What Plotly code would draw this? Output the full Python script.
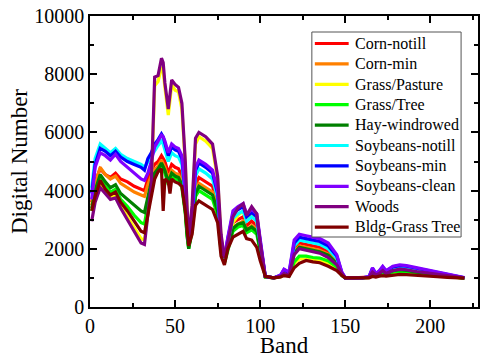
import plotly.graph_objects as go

BANDS = [1, 3, 6, 9, 12, 15, 18, 22, 26, 30,
         32, 34, 36, 38, 40, 42, 43, 44, 46, 47,
         48, 50, 52, 54, 56, 57, 58, 60, 62, 64,
         68, 72, 75, 77, 79, 81, 84, 87, 90, 92,
         95, 98, 100, 103, 108, 112, 114, 117, 120, 123,
         127, 131, 135, 140, 145, 148, 150, 155, 160, 164,
         166, 168, 170, 172, 174, 178, 182, 186, 192, 198,
         204, 210, 216, 220]

corn_notill = [3600, 4300, 4750, 4550, 4450, 4600, 4400, 4300, 4150, 4050,
               4000, 4400, 4700, 4900, 5000, 5200, 5100, 5000, 4600, 4750,
               4900, 4800, 4750, 4500, 3500, 2700, 2100, 2900, 4200, 4450,
               4300, 4150, 3550, 2100, 1600, 2150, 2900, 3000, 3100, 2800,
               2950, 2800, 2050, 1040, 1000, 1070, 1220, 1130, 2000, 2200,
               2150, 2100, 2050, 1900, 1600, 1120, 1000, 1000, 1000, 1025,
               1250, 1100, 1170, 1300, 1170, 1300, 1330, 1310, 1250, 1190,
               1130, 1080, 1020, 995]
corn_min = [3500, 4200, 4800, 4550, 4400, 4500, 4250, 4100, 3950, 3850,
            3800, 4200, 4500, 4700, 4850, 5050, 4950, 4800, 4400, 4550,
            4700, 4600, 4550, 4300, 3400, 2600, 2050, 2800, 4000, 4250,
            4100, 3950, 3400, 2000, 1550, 2050, 2750, 2850, 2950, 2650,
            2800, 2650, 1950, 1040, 1000, 1060, 1200, 1120, 1900, 2100,
            2050, 2000, 1950, 1820, 1550, 1100, 1000, 1000, 1000, 1020,
            1230, 1090, 1150, 1280, 1150, 1280, 1310, 1290, 1230, 1170,
            1110, 1070, 1015, 995]
grass_pasture = [3300, 3800, 4200, 4000, 3800, 3850, 3500, 3100, 2700, 2350,
                 2300, 3200, 4100, 7600, 7750, 8250, 8100, 7550, 6600, 7100,
                 7650, 7450, 7400, 6800, 4900, 3400, 2300, 3400, 5600, 5850,
                 5700, 5450, 4400, 2400, 1650, 2100, 2900, 3150, 3300, 2950,
                 3200, 3000, 2100, 1050, 1000, 1030, 1100, 1080, 1500, 1650,
                 1650, 1600, 1580, 1480, 1300, 1100, 1000, 1000, 1000, 1010,
                 1100, 1050, 1080, 1150, 1100, 1150, 1180, 1170, 1130, 1100,
                 1070, 1040, 1010, 990]
grass_tree = [3300, 3900, 4400, 4150, 3950, 4050, 3700, 3450, 3150, 2900,
              2850, 3600, 4200, 4500, 4650, 4850, 4750, 4600, 4200, 4350,
              4500, 4400, 4350, 4100, 3200, 2450, 2000, 2600, 3800, 4000,
              3850, 3700, 3150, 1900, 1500, 1950, 2600, 2750, 2800, 2550,
              2650, 2500, 1900, 1030, 1000, 1050, 1150, 1080, 1550, 1750,
              1750, 1700, 1680, 1580, 1380, 1080, 1000, 1000, 1000, 1015,
              1150, 1060, 1100, 1200, 1100, 1200, 1230, 1220, 1170, 1120,
              1080, 1050, 1010, 990]
hay_windrowed = [3400, 4000, 4550, 4300, 4100, 4200, 3900, 3700, 3500, 3300,
                 3250, 3800, 4300, 4600, 4750, 4950, 4850, 4700, 4300, 4450,
                 4600, 4500, 4450, 4200, 3300, 2500, 2000, 2700, 3900, 4150,
                 4000, 3850, 3300, 1950, 1550, 2000, 2700, 2850, 2900, 2650,
                 2750, 2600, 1950, 1040, 1000, 1060, 1180, 1100, 1850, 2050,
                 2000, 1950, 1900, 1780, 1500, 1100, 1000, 1000, 1000, 1020,
                 1200, 1080, 1130, 1250, 1130, 1250, 1280, 1260, 1200, 1150,
                 1100, 1060, 1010, 990]
soy_notill = [4100, 5100, 5600, 5450, 5300, 5450, 5250, 5100, 5000, 4900,
              4800, 5000, 5200, 5400, 5550, 5700, 5600, 5400, 5000, 5150,
              5300, 5200, 5150, 4900, 3800, 2850, 2150, 3000, 4500, 4750,
              4600, 4400, 3750, 2200, 1650, 2250, 3050, 3200, 3300, 2950,
              3100, 2950, 2150, 1050, 1000, 1080, 1250, 1150, 2100, 2300,
              2250, 2200, 2150, 2000, 1680, 1150, 1000, 1000, 1000, 1030,
              1300, 1120, 1200, 1350, 1200, 1350, 1390, 1370, 1300, 1230,
              1160, 1100, 1030, 1000]
soy_min = [3900, 4900, 5450, 5350, 5200, 5350, 5150, 5000, 4900, 4800,
           4700, 5100, 5300, 5600, 5750, 5950, 5850, 5600, 5200, 5350,
           5500, 5400, 5350, 5100, 3900, 2900, 2200, 3100, 4700, 4950,
           4800, 4600, 3900, 2250, 1700, 2350, 3200, 3350, 3450, 3100,
           3250, 3100, 2250, 1050, 1000, 1090, 1280, 1180, 2200, 2400,
           2350, 2300, 2250, 2100, 1750, 1180, 1000, 1000, 1000, 1040,
           1330, 1140, 1230, 1380, 1230, 1380, 1420, 1400, 1330, 1250,
           1180, 1110, 1040, 1005]
soy_clean = [3700, 4800, 5300, 5200, 5050, 5250, 5000, 4800, 4600, 4400,
             4350, 4600, 5000, 5500, 5700, 5900, 5850, 5700, 5300, 5450,
             5600, 5500, 5450, 5200, 4000, 3000, 2200, 3200, 4800, 5050,
             4900, 4700, 4000, 2300, 1700, 2400, 3300, 3450, 3550, 3200,
             3350, 3200, 2300, 1050, 1000, 1100, 1300, 1200, 2300, 2500,
             2450, 2400, 2350, 2200, 1800, 1200, 1000, 1000, 1000, 1050,
             1350, 1150, 1250, 1400, 1250, 1400, 1450, 1420, 1350, 1270,
             1200, 1120, 1050, 1010]
woods = [2950, 3600, 4100, 3900, 3700, 3750, 3400, 3000, 2600, 2200,
         2150, 3200, 4200, 7900, 7950, 8550, 8400, 7700, 6800, 7300,
         7800, 7650, 7550, 7000, 5000, 3500, 2300, 3500, 5800, 6000,
         5850, 5600, 4500, 2500, 1700, 2200, 3100, 3400, 3550, 3150,
         3450, 3200, 2200, 1050, 1000, 1050, 1150, 1100, 1800, 2000,
         1950, 1900, 1850, 1700, 1450, 1150, 1000, 1000, 1000, 1020,
         1200, 1100, 1150, 1250, 1150, 1250, 1300, 1280, 1220, 1170,
         1120, 1070, 1020, 1000]
bldg_grass_tree = [3300, 3800, 4350, 4050, 3850, 3950, 3600, 3300, 2950, 2600,
                   2550, 3200, 3700, 4400, 4650, 4750, 3300, 4400, 4300, 3900,
                   4400, 4300, 4250, 4150, 3300, 2700, 2100, 2500, 3500, 3650,
                   3500, 3350, 2900, 1750, 1450, 2000, 2400, 2500, 2600, 2350,
                   2300, 2050, 1600, 1050, 1000, 1030, 1080, 1050, 1350, 1500,
                   1600, 1550, 1520, 1400, 1250, 1080, 1000, 1000, 1000, 1000,
                   1050, 1030, 1060, 1080, 1060, 1100, 1120, 1110, 1080, 1060,
                   1040, 1020, 1000, 990]

NAMES = ["Corn-notill", "Corn-min", "Grass/Pasture", "Grass/Tree", "Hay-windrowed",
         "Soybeans-notill", "Soybeans-min", "Soybeans-clean", "Woods", "Bldg-Grass Tree"]
SERIES = [corn_notill, corn_min, grass_pasture, grass_tree, hay_windrowed,
          soy_notill, soy_min, soy_clean, woods, bldg_grass_tree]
COLORS = ["#FF0000", "#FF8000", "#FFFF00", "#00FF00", "#008000",
          "#00FFFF", "#0000FF", "#8000FF", "#800080", "#800000"]

FONT = "Liberation Serif"
W, H = 480, 358
ML, MR, MT, MB = 90, 0, 16, 51
PW, PH = W - ML - MR, H - MT - MB

fig = go.Figure()
for name, vals, col in zip(NAMES, SERIES, COLORS):
    assert len(vals) == len(BANDS)
    fig.add_trace(go.Scatter(x=BANDS, y=vals, mode="lines", name=name,
                             line=dict(color=col, width=3.2), showlegend=False))

axis_common = dict(showline=True, linecolor="black", linewidth=1.5, mirror="allticks",
                   ticks="inside", ticklen=7, tickwidth=1.5, tickcolor="black",
                   showgrid=False, zeroline=False,
                   tickfont=dict(family=FONT, size=20, color="black"))

fig.update_xaxes(range=[0, 228], tickvals=[0, 50, 100, 150, 200], tickformat="d",
                 minor=dict(ticks="inside", ticklen=4, tickwidth=1.5, tickcolor="black",
                            tickvals=[25, 75, 125, 175, 225]),
                 title=dict(text="Band", font=dict(family=FONT, size=23, color="black"), standoff=0),
                 **axis_common)
fig.update_yaxes(range=[0, 10000], tickvals=[0, 2000, 4000, 6000, 8000, 10000], tickformat="d",
                 minor=dict(ticks="inside", ticklen=4, tickwidth=1.5, tickcolor="black",
                            tickvals=[1000, 3000, 5000, 7000, 9000]),
                 title=dict(text="Digital Number", font=dict(family=FONT, size=23, color="black"), standoff=0),
                 **axis_common)

# legend panel (pixel layout converted to paper coordinates)
def px_x(p):
    return (p - ML) / PW

def px_y(p):
    return (H - MB - p) / PH

LEG_L, LEG_R, LEG_T, LEG_B = 313, 463, 32, 237
ROW0, ROW_STEP = 43.5, 20.4
fig.add_shape(type="rect", xref="paper", yref="paper",
              x0=px_x(LEG_L), x1=px_x(LEG_R), y0=px_y(LEG_B), y1=px_y(LEG_T),
              line=dict(color="#555555", width=1), fillcolor="white", layer="above")
for i, (name, col) in enumerate(zip(NAMES, COLORS)):
    yy = px_y(ROW0 + i * ROW_STEP)
    fig.add_shape(type="line", xref="paper", yref="paper",
                  x0=px_x(316), x1=px_x(350), y0=yy, y1=yy,
                  line=dict(color=col, width=3.2), layer="above")
    fig.add_annotation(x=px_x(354), y=yy, xref="paper", yref="paper",
                       text=name, showarrow=False, xanchor="left", yanchor="middle",
                       font=dict(family=FONT, size=16, color="black"))

fig.update_layout(
    width=W, height=H,
    margin=dict(l=ML, r=MR, t=MT, b=MB),
    paper_bgcolor="white", plot_bgcolor="white",
    showlegend=False,
)

fig.write_html("out.html")
